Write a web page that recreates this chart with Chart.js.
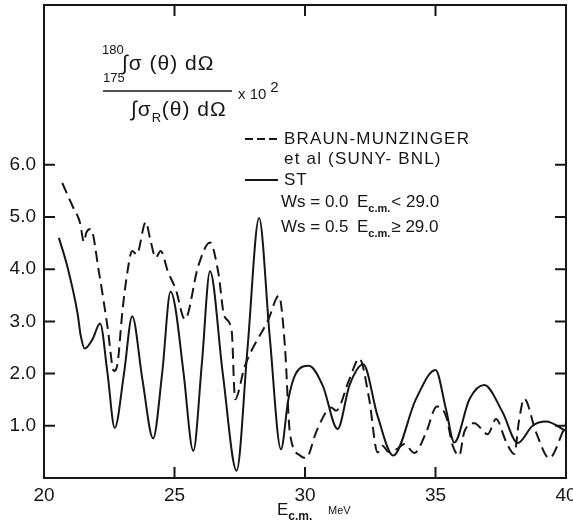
<!DOCTYPE html>
<html>
<head>
<meta charset="utf-8">
<script src="https://cdn.jsdelivr.net/npm/chart.js@4.4.1/dist/chart.umd.min.js"></script>
<style>
  html, body { margin: 0; padding: 0; background: #fff; }
  canvas { display: block; }
</style>
</head>
<body>
<canvas id="chart" width="573" height="527"></canvas>
<script>
// ST calculation (solid)
var stEnergy = [20.57, 20.89, 21.28, 21.41, 21.56, 21.85, 22.15, 22.43, 22.71, 23.07, 23.38, 23.77, 24.18, 24.53, 24.85, 25.02, 25.35, 25.72, 26.05, 26.36, 26.85, 27.38, 27.8, 28.24, 28.65, 29.08, 29.36, 29.65, 30.15, 30.68, 31.25, 31.7, 32.23, 32.78, 33.38, 34.25, 35.0, 35.4, 35.72, 36.3, 36.87, 37.57, 38.15, 38.72, 39.23, 40.0];
var stValues = [4.60, 4.06, 3.17, 2.72, 2.48, 2.65, 2.96, 2.02, 0.96, 2.02, 3.10, 1.89, 0.76, 2.02, 3.57, 3.30, 2.00, 0.52, 2.20, 3.96, 2.00, 0.14, 2.50, 4.98, 2.70, 0.55, 1.50, 2.00, 2.15, 1.77, 0.94, 1.77, 2.18, 1.19, 0.43, 1.51, 2.07, 1.32, 0.68, 1.51, 1.78, 1.26, 0.67, 1.00, 1.08, 0.90];

// Braun-Munzinger et al (SUNY-BNL) (dashed)
var bmEnergy = [20.70, 21.10, 21.38, 21.53, 21.62, 21.79, 22.11, 22.43, 22.68, 22.82, 23.00, 23.19, 23.38, 23.55, 23.90, 24.08, 24.28, 24.47, 24.75, 25.05, 25.40, 25.91, 26.36, 26.68, 26.91, 27.19, 27.32, 27.70, 28.60, 29.00, 29.23, 29.42, 29.81, 30.04, 30.42, 30.80, 31.00, 31.19, 31.70, 32.08, 32.46, 32.78, 32.97, 33.20, 33.50, 33.81, 34.19, 34.64, 35.05, 35.40, 35.66, 35.91, 36.10, 36.49, 37.00, 37.32, 37.70, 38.02, 38.20, 38.40, 38.85, 39.36, 39.87, 40.00];
var bmValues = [5.65, 5.20, 4.89, 4.52, 4.70, 4.77, 3.93, 2.91, 2.05, 2.20, 3.17, 3.93, 4.35, 4.28, 4.90, 4.55, 4.22, 4.35, 3.95, 3.61, 3.04, 4.06, 4.51, 3.93, 3.10, 2.82, 1.51, 2.15, 3.04, 3.49, 2.53, 0.87, 0.43, 0.38, 0.87, 1.26, 1.35, 1.29, 1.89, 2.29, 1.51, 0.49, 0.62, 0.50, 0.55, 0.65, 0.48, 0.87, 1.37, 1.19, 0.62, 0.43, 0.88, 1.05, 0.84, 1.13, 0.70, 0.46, 1.10, 1.52, 0.88, 0.38, 0.88, 1.05];

var xTicks = [20, 25, 30, 35, 40];
var yTicks = [1, 2, 3, 4, 5, 6];

function points(xs, ys) {
  return xs.map(function(v, i){ return {x: v, y: ys[i]}; });
}

var ink = '#161616';
var textFont = '"Liberation Sans", Arial, sans-serif';

function txt(ctx, s, x, y, size, opts) {
  opts = opts || {};
  ctx.font = (opts.weight || 'normal') + ' ' + size + 'px ' + (opts.family || textFont);
  ctx.letterSpacing = opts.spacing || '0px';
  ctx.fillText(s, x, y);
  var w = ctx.measureText(s).width;
  ctx.letterSpacing = '0px';
  return x + w;
}

var framePlugin = {
  id: 'frame',
  beforeDraw: function(chart) {
    var ctx = chart.ctx;
    ctx.save();
    ctx.fillStyle = '#fff';
    ctx.fillRect(0, 0, chart.width, chart.height);
    ctx.restore();
  },
  afterDraw: function(chart) {
    var ctx = chart.ctx, a = chart.chartArea;
    var xs = chart.scales.x, ys = chart.scales.y;
    ctx.save();
    ctx.strokeStyle = ink;
    ctx.lineWidth = 2;
    ctx.strokeRect(a.left, a.top, a.right - a.left, a.bottom - a.top);

    // inward ticks on all four sides
    ctx.beginPath();
    yTicks.forEach(function(v){
      var p = ys.getPixelForValue(v);
      ctx.moveTo(a.left, p); ctx.lineTo(a.left + 11, p);
      ctx.moveTo(a.right - 11, p); ctx.lineTo(a.right, p);
    });
    xTicks.slice(1, -1).forEach(function(v){
      var p = xs.getPixelForValue(v);
      ctx.moveTo(p, a.bottom); ctx.lineTo(p, a.bottom - 11);
      ctx.moveTo(p, a.top); ctx.lineTo(p, a.top + 11);
    });
    ctx.stroke();

    // ratio label
    ctx.fillStyle = ink;
    ctx.textBaseline = 'middle';
    ctx.textAlign = 'left';
    txt(ctx, '180', 102, 50, 13);
    txt(ctx, '\u222B\u03C3 (\u03B8) d\u03A9', 122, 64, 21, {spacing: '1px'});
    txt(ctx, '175', 103, 78, 13);
    ctx.lineWidth = 1.5;
    ctx.beginPath(); ctx.moveTo(103, 91); ctx.lineTo(232, 91); ctx.stroke();
    var e = txt(ctx, 'x 10', 238, 95, 15);
    txt(ctx, '2', e + 4, 88, 15);
    e = txt(ctx, '\u222B\u03C3', 131, 110, 21, {spacing: '1px'});
    txt(ctx, 'R', e, 118, 13);
    txt(ctx, '(\u03B8) d\u03A9', e + 10, 110, 21, {spacing: '1px'});

    // legend
    ctx.lineWidth = 2;
    ctx.setLineDash([8, 4]);
    ctx.beginPath(); ctx.moveTo(245, 139); ctx.lineTo(281, 139); ctx.stroke();
    ctx.setLineDash([]);
    ctx.beginPath(); ctx.moveTo(245, 180); ctx.lineTo(278, 180); ctx.stroke();
    txt(ctx, 'BRAUN-MUNZINGER', 284, 139, 17, {spacing: '1.2px'});
    txt(ctx, 'et al (SUNY- BNL)', 284, 159, 17, {spacing: '1.2px'});
    txt(ctx, 'ST', 284, 180, 17, {spacing: '1px'});
    txt(ctx, 'Ws = 0.0', 281, 202, 17);
    e = txt(ctx, 'E', 357, 202, 17);
    e = txt(ctx, 'c.m.', e, 209, 11, {weight: 'bold'});
    txt(ctx, '< 29.0', e + 1, 202, 17);
    txt(ctx, 'Ws = 0.5', 281, 227, 17);
    e = txt(ctx, 'E', 357, 227, 17);
    e = txt(ctx, 'c.m.', e, 234, 11, {weight: 'bold'});
    txt(ctx, '\u2265 29.0', e + 1, 227, 17);

    // x axis title
    e = txt(ctx, 'E', 277, 510, 17);
    txt(ctx, 'c.m.', e, 517, 12, {weight: 'bold'});
    txt(ctx, 'MeV', 328, 511, 11);
    ctx.restore();
  }
};

new Chart(document.getElementById('chart'), {
  type: 'line',
  data: {
    datasets: [
      {
        label: 'ST',
        data: points(stEnergy, stValues),
        borderColor: ink,
        borderWidth: 2,
        pointRadius: 0,
        cubicInterpolationMode: 'monotone',
        fill: false
      },
      {
        label: 'BRAUN-MUNZINGER et al (SUNY-BNL)',
        data: points(bmEnergy, bmValues),
        borderColor: ink,
        borderWidth: 2,
        borderDash: [11, 6],
        pointRadius: 0,
        cubicInterpolationMode: 'monotone',
        fill: false
      }
    ]
  },
  options: {
    responsive: false,
    animation: false,
    devicePixelRatio: 1,
    layout: { padding: { top: 5, right: 7, left: 0, bottom: 0 } },
    plugins: { legend: { display: false }, tooltip: { enabled: false } },
    scales: {
      x: {
        type: 'linear',
        min: 20, max: 40,
        grid: { display: false, drawTicks: false },
        border: { display: false },
        afterBuildTicks: function(s){ s.ticks = xTicks.map(function(v){ return {value: v}; }); },
        ticks: {
          color: ink, padding: 6,
          font: { family: textFont, size: 19 },
          maxRotation: 0,
          callback: function(v){ return String(v); }
        },
        afterFit: function(s){ s.height = 49; s.paddingLeft = 0; s.paddingRight = 0; }
      },
      y: {
        type: 'linear',
        min: 0, max: 9.06,
        grid: { display: false, drawTicks: false },
        border: { display: false },
        afterBuildTicks: function(s){ s.ticks = yTicks.map(function(v){ return {value: v}; }); },
        ticks: {
          color: ink, padding: 8,
          font: { family: textFont, size: 19 },
          callback: function(v){ return v.toFixed(1); }
        },
        afterFit: function(s){ s.width = 44; s.paddingTop = 0; s.paddingBottom = 0; }
      }
    }
  },
  plugins: [framePlugin]
});
</script>
</body>
</html>
